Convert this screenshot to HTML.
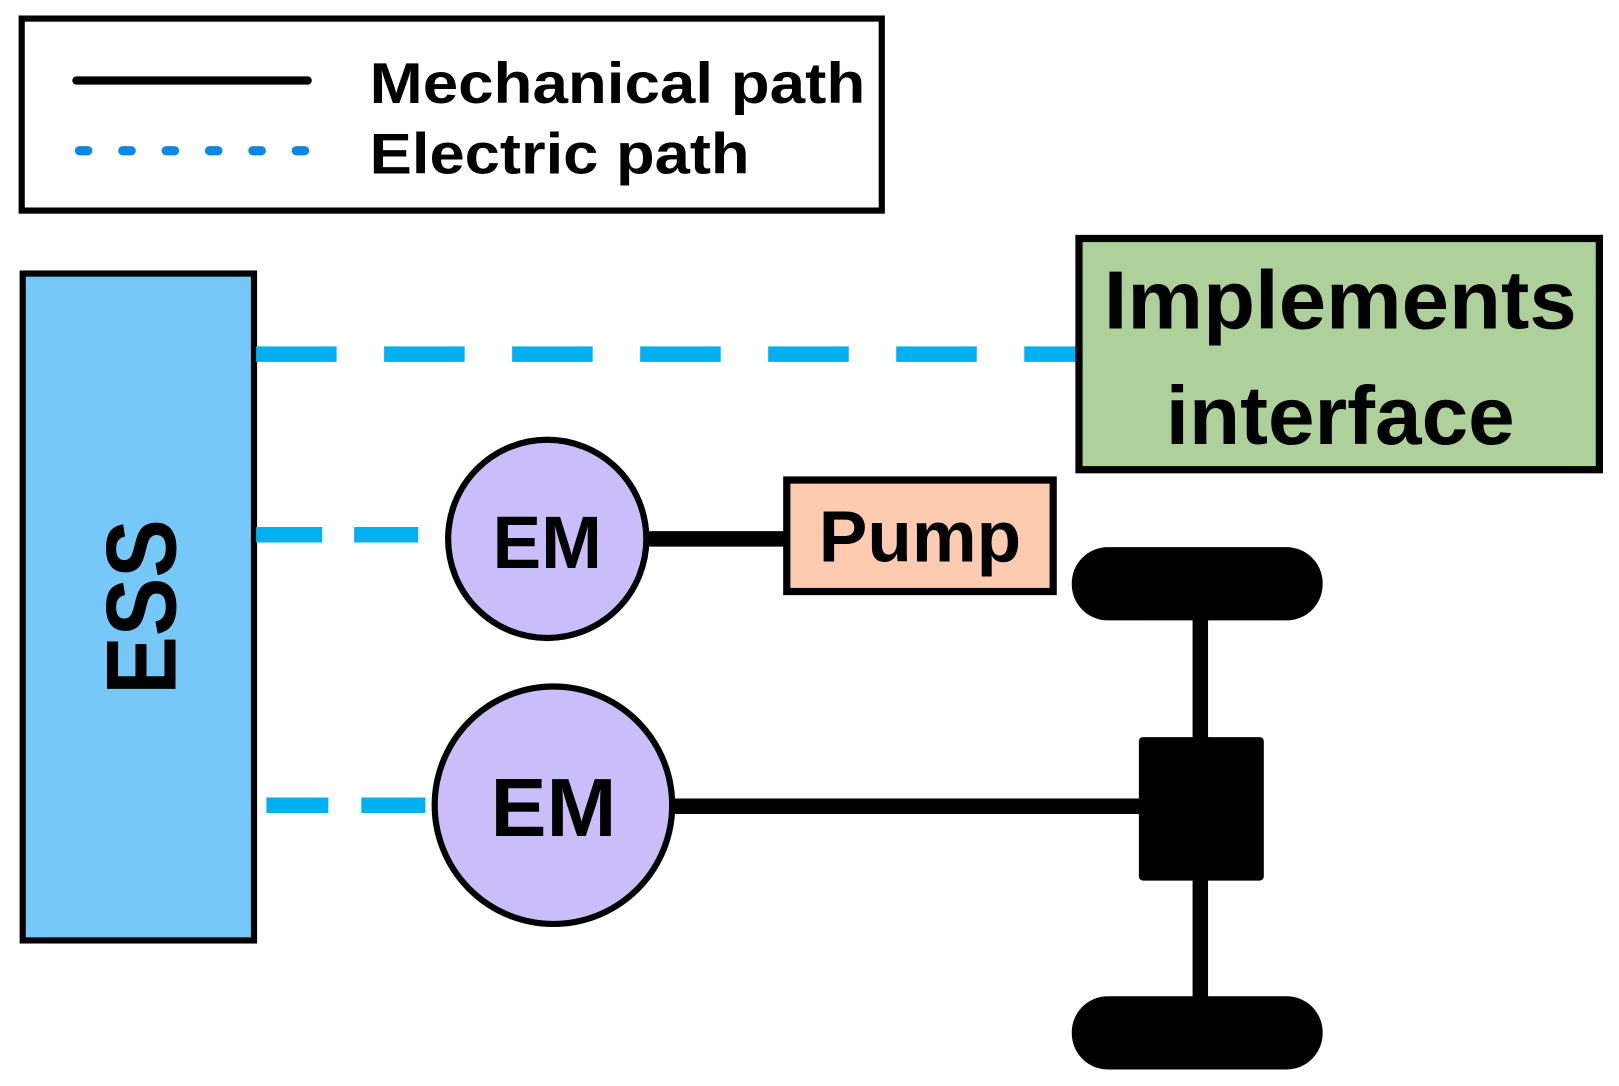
<!DOCTYPE html>
<html><head><meta charset="utf-8"><style>html,body{margin:0;padding:0;background:#fff}svg{display:block}</style></head>
<body>
<svg width="1619" height="1086" viewBox="0 0 1568 1052" preserveAspectRatio="none" xmlns="http://www.w3.org/2000/svg" font-family="'Liberation Sans', sans-serif" font-weight="bold">
<rect x="0" y="0" width="1568" height="1052" fill="#fff"/>
<rect x="21" y="18" width="833" height="186" fill="#fff" stroke="#000" stroke-width="6"/>
<line x1="74" y1="78" x2="298" y2="78" stroke="#000" stroke-width="8" stroke-linecap="round"/>
<line x1="77" y1="146" x2="295" y2="146" stroke="#0a88e6" stroke-width="9" stroke-linecap="round" stroke-dasharray="8 34"/>
<text x="358" y="100" font-size="56" textLength="480" lengthAdjust="spacingAndGlyphs">Mechanical path</text>
<text x="358" y="168" font-size="56" textLength="368" lengthAdjust="spacingAndGlyphs">Electric path</text>
<rect x="22" y="265" width="224" height="646" fill="#75c8f8" stroke="#000" stroke-width="6"/>
<text transform="translate(170,588) rotate(-90)" text-anchor="middle" font-size="96" textLength="170" lengthAdjust="spacingAndGlyphs">ESS</text>
<line x1="248" y1="343" x2="1043" y2="343" stroke="#00b0f0" stroke-width="15" stroke-dasharray="78 46"/>
<line x1="248" y1="518" x2="312" y2="518" stroke="#00b0f0" stroke-width="15"/>
<line x1="343" y1="518" x2="405" y2="518" stroke="#00b0f0" stroke-width="15"/>
<line x1="258" y1="780" x2="318" y2="780" stroke="#00b0f0" stroke-width="15"/>
<line x1="350" y1="780" x2="412" y2="780" stroke="#00b0f0" stroke-width="15"/>
<rect x="1045" y="231" width="504" height="224" fill="#aed09a" stroke="#000" stroke-width="7"/>
<text x="1298" y="318" text-anchor="middle" font-size="80" textLength="458" lengthAdjust="spacingAndGlyphs">Implements</text>
<text x="1298" y="430" text-anchor="middle" font-size="80" textLength="338" lengthAdjust="spacingAndGlyphs">interface</text>
<line x1="620" y1="522" x2="764" y2="522" stroke="#000" stroke-width="15"/>
<circle cx="530" cy="522" r="96" fill="#cbbdfa" stroke="#000" stroke-width="6"/>
<text x="530" y="550" text-anchor="middle" font-size="72" textLength="106" lengthAdjust="spacingAndGlyphs">EM</text>
<rect x="762" y="465" width="258" height="108" fill="#fdcbb0" stroke="#000" stroke-width="7"/>
<text x="891" y="544" text-anchor="middle" font-size="70" textLength="196" lengthAdjust="spacingAndGlyphs">Pump</text>
<line x1="645" y1="781" x2="1110" y2="781" stroke="#000" stroke-width="15"/>
<circle cx="536" cy="780" r="115" fill="#cbbdfa" stroke="#000" stroke-width="6"/>
<text x="536" y="810" text-anchor="middle" font-size="80" textLength="122" lengthAdjust="spacingAndGlyphs">EM</text>
<rect x="1155" y="595" width="15" height="375" fill="#000"/>
<rect x="1103" y="714" width="121" height="139" rx="4" fill="#000"/>
<rect x="1038" y="530" width="243" height="71" rx="35" fill="#000"/>
<rect x="1038" y="965" width="243" height="71" rx="35" fill="#000"/>
</svg>
</body></html>
